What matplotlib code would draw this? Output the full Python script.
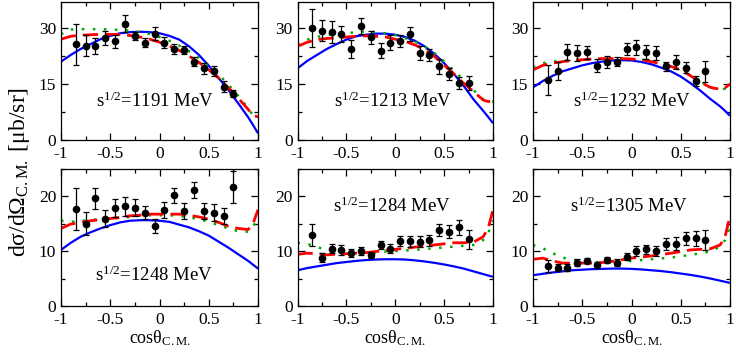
import matplotlib
matplotlib.use("Agg")
import matplotlib.pyplot as plt
from matplotlib.ticker import MultipleLocator

plt.rcParams['font.family'] = ['Liberation Serif', 'DejaVu Serif']
plt.rcParams['mathtext.fontset'] = 'custom'
plt.rcParams['mathtext.rm'] = 'Liberation Serif'
plt.rcParams['mathtext.it'] = 'Liberation Serif:italic'

energies = [1191, 1213, 1232, 1248, 1284, 1305]

x_data = [-0.85, -0.75, -0.65, -0.55, -0.45, -0.35, -0.25, -0.15, -0.05,
          0.05, 0.15, 0.25, 0.35, 0.45, 0.55, 0.65, 0.75]

y_1191 = [25.6, 25.3, 25.1, 27.3, 26.4, 31.2, 27.9, 26.0, 28.5, 26.1, 24.4, 24.2, 21.0, 19.2, 18.5, 14.3, 12.4]
e_1191 = [5.5, 2.9, 2.1, 1.9, 1.7, 2.2, 1.1, 1.2, 1.8, 1.5, 1.3, 1.1, 1.2, 1.5, 1.4, 1.4, 1.0]
y_1213 = [30.0, 29.3, 28.9, 28.4, 24.4, 30.6, 27.5, 23.9, 26.1, 26.5, 28.4, 23.3, 22.8, 19.7, 17.7, 15.2, 15.2]
e_1213 = [5.2, 2.9, 2.9, 2.2, 2.5, 2.2, 1.8, 2.0, 2.0, 1.7, 2.0, 1.9, 1.6, 1.9, 1.5, 1.6, 1.9]
y_1232 = [16.1, 18.5, 23.5, 23.3, 23.5, 19.9, 21.0, 21.0, 24.4, 24.8, 23.5, 23.3, 19.7, 20.8, 19.4, 15.8, 18.4]
e_1232 = [4.0, 2.4, 2.2, 2.1, 1.8, 1.7, 1.6, 1.3, 1.7, 1.9, 1.9, 1.8, 1.3, 1.9, 1.4, 1.3, 2.8]
y_1248 = [17.6, 15.0, 19.6, 15.9, 17.8, 18.1, 17.9, 17.0, 14.5, 17.5, 20.1, 17.3, 21.1, 17.3, 17.0, 16.4, 21.6]
e_1248 = [3.8, 2.1, 1.9, 1.6, 1.6, 1.7, 1.5, 1.1, 1.3, 1.5, 1.4, 1.5, 1.5, 1.5, 1.6, 1.5, 2.9]
y_1284 = [13.0, 8.8, 10.4, 10.2, 9.6, 10.0, 9.3, 11.1, 10.4, 11.8, 11.8, 11.7, 12.0, 13.8, 13.5, 14.3, 12.1]
e_1284 = [2.0, 0.8, 0.8, 0.9, 0.75, 0.7, 0.6, 0.75, 0.8, 0.9, 1.0, 1.0, 1.0, 1.1, 1.2, 1.4, 1.7]
y_1305 = [7.3, 7.0, 7.0, 7.9, 8.2, 7.5, 8.4, 7.9, 9.0, 10.0, 10.3, 10.0, 11.3, 11.3, 12.3, 12.3, 12.0]
e_1305 = [1.05, 0.65, 0.55, 0.65, 0.45, 0.5, 0.6, 0.6, 0.65, 0.85, 0.85, 0.85, 1.05, 1.2, 1.15, 1.3, 1.9]

x_curve = [-1.0, -0.9, -0.8, -0.7, -0.6, -0.5, -0.4, -0.3, -0.2, -0.1, 0.0,
           0.1, 0.2, 0.3, 0.4, 0.5, 0.6, 0.7, 0.8, 0.9, 0.95, 1.0]

blue_1191 = [21.0, 22.8, 24.4, 25.7, 27.0, 27.9, 28.6, 28.9, 29.0, 28.9, 28.6, 27.9, 26.9, 25.1, 22.8, 19.9, 16.6, 13.4, 9.8, 6.1, 4.0, 1.8]
red_1191 = [27.0, 27.8, 28.1, 28.2, 28.3, 28.3, 28.2, 28.0, 27.6, 27.0, 26.2, 25.2, 24.0, 22.5, 20.8, 18.8, 16.6, 14.0, 11.2, 8.2, 6.6, 6.2]
green_1191 = [28.3, 29.6, 29.7, 29.7, 29.7, 29.6, 29.5, 29.3, 28.9, 28.4, 27.6, 26.6, 25.3, 23.8, 22.0, 20.0, 17.6, 14.8, 11.8, 8.5, 6.6, 6.3]

blue_1213 = [19.2, 21.2, 22.8, 24.4, 25.7, 26.9, 27.8, 28.2, 28.5, 28.5, 28.2, 27.6, 26.6, 25.1, 23.1, 20.6, 17.7, 14.5, 10.9, 7.8, 6.2, 4.5]
red_1213 = [25.1, 26.2, 26.9, 27.2, 27.4, 27.6, 27.8, 27.9, 27.8, 27.6, 27.0, 26.4, 25.5, 24.2, 22.4, 20.1, 17.7, 15.2, 13.0, 10.7, 10.3, 10.5]
green_1213 = [25.5, 26.9, 27.6, 28.2, 28.4, 28.6, 28.9, 29.1, 28.9, 28.6, 28.1, 27.3, 26.4, 25.1, 23.3, 21.0, 18.6, 16.1, 13.4, 10.9, 10.4, 10.3]

blue_1232 = [14.1, 15.8, 17.2, 18.4, 19.2, 20.0, 20.6, 21.0, 21.3, 21.4, 21.3, 20.9, 20.3, 19.4, 18.4, 17.0, 15.2, 13.2, 11.0, 9.0, 7.8, 6.5]
red_1232 = [18.8, 20.0, 20.6, 21.0, 21.3, 21.5, 21.7, 21.8, 21.8, 21.8, 21.7, 21.5, 21.0, 20.4, 19.7, 18.8, 17.2, 15.5, 14.1, 13.6, 14.0, 15.0]
green_1232 = [19.5, 20.6, 21.0, 21.2, 21.4, 21.5, 21.7, 21.8, 21.9, 21.9, 21.7, 21.5, 21.2, 20.7, 20.0, 19.0, 17.5, 15.7, 14.1, 13.4, 13.8, 14.8]

blue_1248 = [10.2, 11.5, 12.6, 13.4, 14.1, 14.7, 15.2, 15.5, 15.6, 15.6, 15.5, 15.3, 14.8, 14.3, 13.6, 12.8, 11.7, 10.6, 9.4, 8.2, 7.5, 6.8]
red_1248 = [14.1, 14.9, 15.2, 15.5, 15.7, 15.9, 16.1, 16.4, 16.5, 16.7, 16.7, 16.7, 16.7, 16.5, 16.2, 15.8, 15.2, 14.5, 14.1, 13.9, 15.0, 17.5]
green_1248 = [15.5, 15.3, 15.5, 15.6, 15.8, 15.9, 16.0, 16.2, 16.4, 16.5, 16.5, 16.5, 16.4, 16.1, 15.8, 15.3, 14.7, 14.1, 13.6, 13.5, 14.4, 16.2]

blue_1284 = [6.5, 6.9, 7.2, 7.5, 7.8, 8.0, 8.2, 8.35, 8.45, 8.5, 8.5, 8.45, 8.3, 8.1, 7.85, 7.55, 7.2, 6.8, 6.3, 5.8, 5.55, 5.3]
red_1284 = [9.4, 9.6, 9.5, 9.3, 9.4, 9.5, 9.6, 9.7, 9.9, 10.1, 10.3, 10.5, 10.7, 10.9, 11.1, 11.3, 11.5, 11.5, 11.6, 12.6, 14.1, 17.5]
green_1284 = [11.5, 11.3, 10.7, 10.2, 9.9, 9.7, 9.6, 9.6, 9.7, 9.9, 10.0, 10.1, 10.2, 10.35, 10.5, 10.65, 10.8, 10.95, 11.1, 12.0, 13.2, 15.6]

blue_1305 = [5.6, 5.85, 6.1, 6.3, 6.5, 6.6, 6.7, 6.75, 6.8, 6.8, 6.75, 6.65, 6.5, 6.35, 6.15, 5.9, 5.65, 5.35, 5.0, 4.6, 4.4, 4.2]
red_1305 = [8.5, 8.7, 8.2, 7.8, 7.8, 7.8, 7.8, 7.9, 8.1, 8.4, 8.7, 8.9, 9.1, 9.35, 9.6, 9.9, 10.2, 10.3, 10.4, 11.1, 12.6, 16.4]
green_1305 = [11.1, 10.5, 9.6, 8.8, 8.4, 8.1, 8.0, 7.9, 8.0, 8.1, 8.2, 8.35, 8.5, 8.65, 8.8, 9.05, 9.3, 9.6, 9.9, 10.8, 12.0, 14.5]

x_ticks = [-1, -0.5, 0, 0.5, 1]
x_tick_labels = ["-1", "-0.5", "0", "0.5", "1"]
y_ticks_top = [0, 15, 30]
y_ticks_bottom = [0, 10, 20]

panels = [
    (y_1191, e_1191, blue_1191, red_1191, green_1191),
    (y_1213, e_1213, blue_1213, red_1213, green_1213),
    (y_1232, e_1232, blue_1232, red_1232, green_1232),
    (y_1248, e_1248, blue_1248, red_1248, green_1248),
    (y_1284, e_1284, blue_1284, red_1284, green_1284),
    (y_1305, e_1305, blue_1305, red_1305, green_1305),
]

W, H = 736, 356
fig = plt.figure(figsize=(W / 100, H / 100), dpi=100)

lefts = [61, 297.5, 533]
widths = [197, 195.5, 197]
rows = [(1.9, 140), (168.5, 306)]
label_pos = [(-0.05, 10.3), (-0.02, 10.3), (0.0, 10.3), (-0.06, 5.6), (-0.03, 18.1), (-0.03, 18.1)]

axes = []
for i, (yd, ed, bl, rd, gr) in enumerate(panels):
    r, c = divmod(i, 3)
    top, bot = rows[r]
    ax = fig.add_axes([lefts[c] / W, 1 - bot / H, widths[c] / W, (bot - top) / H])
    axes.append(ax)
    ax.plot(x_curve, bl, color='#0000ff', lw=1.6, solid_capstyle='butt')
    ax.plot(x_curve, gr, color='#00a800', lw=1.8, linestyle=(0, (1.0, 3.4)))
    ax.plot(x_curve, rd, color='#ff0000', lw=2.0, linestyle=(0, (5.5, 2.5)))
    ax.errorbar(x_data, yd, yerr=ed, fmt='o', color='black', ms=4.5, elinewidth=0.9,
                capsize=2.5, capthick=0.9)
    ax.set_xlim(-1, 1)
    if r == 0:
        ax.set_ylim(0, 37)
        ax.set_yticks(y_ticks_top)
        ax.yaxis.set_minor_locator(MultipleLocator(7.5))
    else:
        ax.set_ylim(0, 25)
        ax.set_yticks(y_ticks_bottom)
        ax.yaxis.set_minor_locator(MultipleLocator(5))
        ax.set_xlabel(r'cosθ$_{\mathrm{C.M.}}$', fontsize=13, labelpad=0)
    ax.set_xticks(x_ticks)
    ax.set_xticklabels(x_tick_labels)
    ax.xaxis.set_minor_locator(MultipleLocator(0.25))
    ax.tick_params(which='both', direction='in', top=True, right=True, labelsize=12.5,
                   width=0.9)
    ax.tick_params(which='major', length=5)
    ax.tick_params(axis='x', which='major', pad=4.5)
    ax.tick_params(axis='y', which='major', pad=3.5)
    ax.tick_params(which='minor', length=3)
    for s in ax.spines.values():
        s.set_linewidth(0.9)
    lx, ly = label_pos[i]
    ax.text(lx, ly, r's$^{1/2}$=%d MeV' % energies[i], fontsize=13.5,
            ha='center', va='center')

fig.text(20 / W, 1 - 172 / H, r'dσ/dΩ$_{\mathrm{C.M.}}$ [μb/sr]', rotation=90, fontsize=17,
         ha='center', va='center')

fig.savefig('out.png', dpi=100)
